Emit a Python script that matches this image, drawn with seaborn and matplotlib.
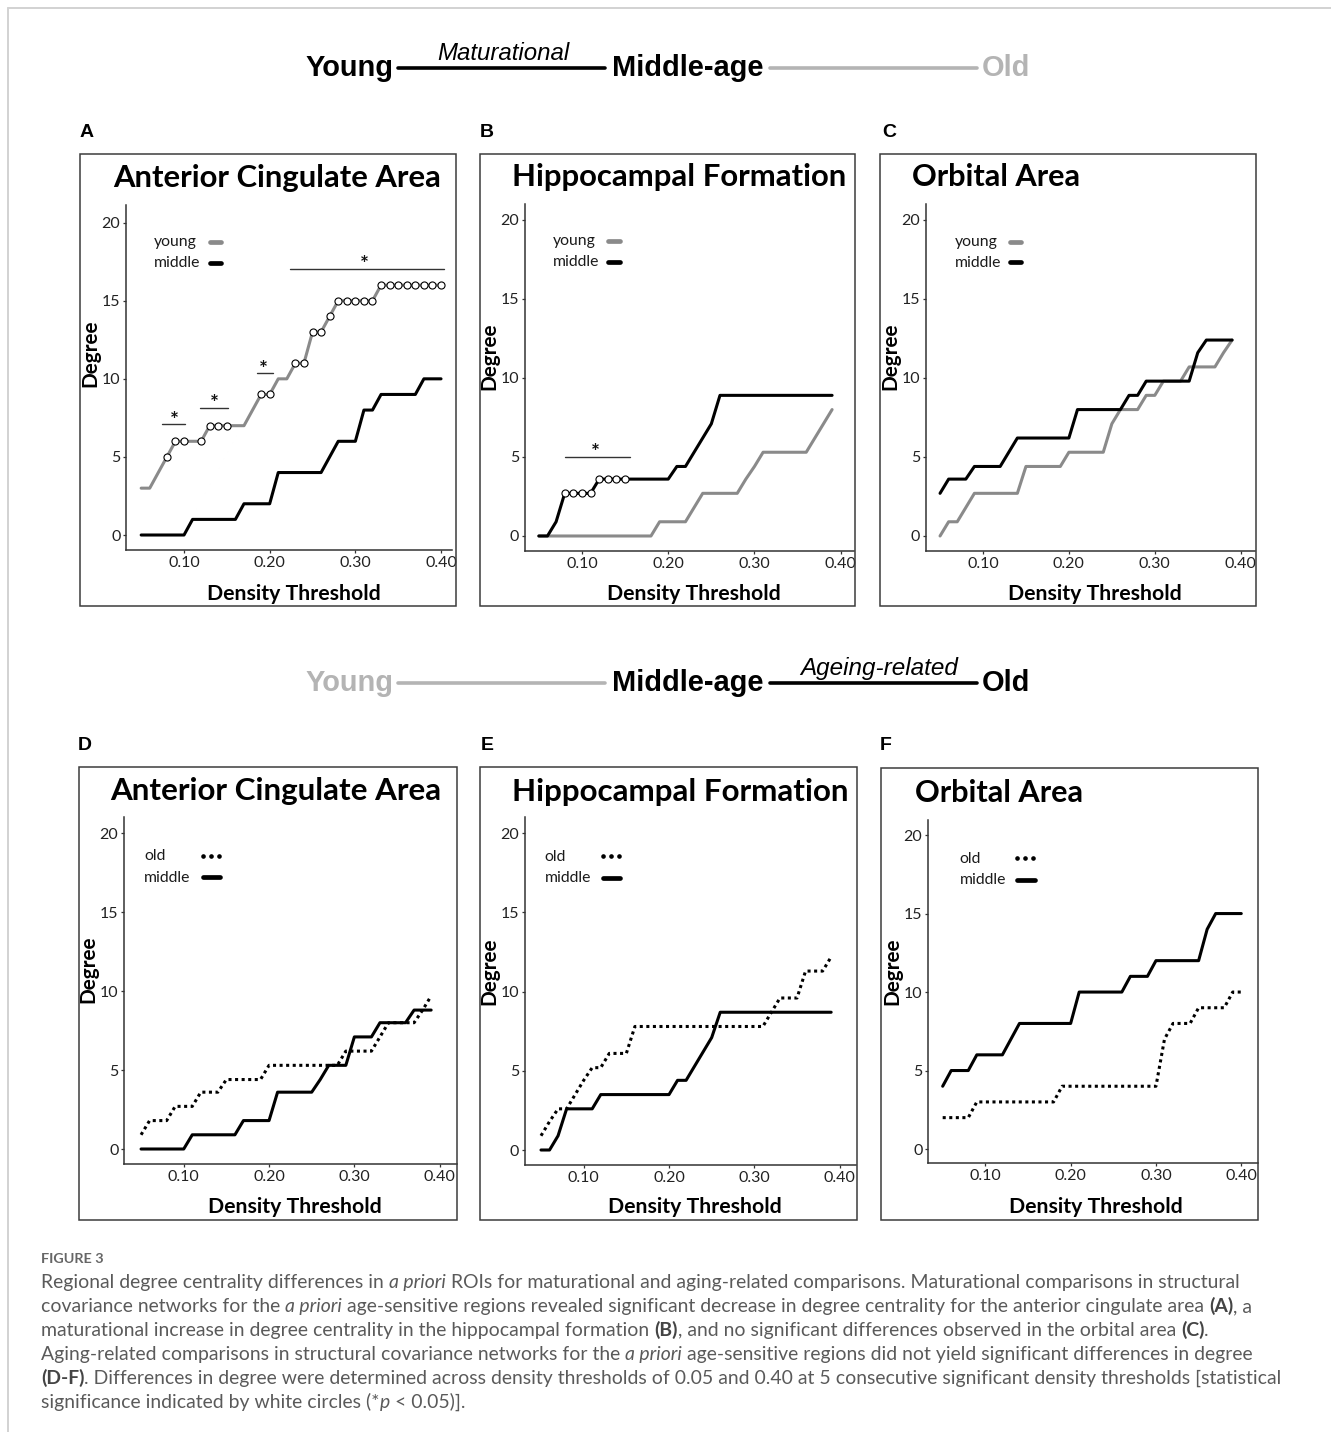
import matplotlib
matplotlib.use("Agg")
import matplotlib.pyplot as plt
import matplotlib.transforms as mtransforms
from matplotlib.lines import Line2D
from matplotlib.patches import Rectangle
import pandas as pd
import seaborn as sns

# ---------------------------------------------------------------- data
thresholds_36 = [0.05, 0.06, 0.07, 0.08, 0.09, 0.10, 0.11, 0.12, 0.13, 0.14,
                 0.15, 0.16, 0.17, 0.18, 0.19, 0.20, 0.21, 0.22, 0.23, 0.24,
                 0.25, 0.26, 0.27, 0.28, 0.29, 0.30, 0.31, 0.32, 0.33, 0.34,
                 0.35, 0.36, 0.37, 0.38, 0.39, 0.40]
thresholds_35 = thresholds_36[:35]

# A - anterior cingulate area, young vs middle-age
acc_young = [3, 3, 4, 5, 6, 6, 6, 6, 7, 7, 7, 7, 7, 8, 9, 9, 10, 10, 11, 11,
             13, 13, 14, 15, 15, 15, 15, 15, 16, 16, 16, 16, 16, 16, 16, 16]
acc_young_sig = [0, 0, 0, 1, 1, 1, 0, 1, 1, 1, 1, 0, 0, 0, 1, 1, 0, 0, 1, 1,
                 1, 1, 1, 1, 1, 1, 1, 1, 1, 1, 1, 1, 1, 1, 1, 1]
acc_middle_a = [0, 0, 0, 0, 0, 0, 1, 1, 1, 1, 1, 1, 2, 2, 2, 2, 4, 4, 4, 4,
                4, 4, 5, 6, 6, 6, 8, 8, 9, 9, 9, 9, 9, 10, 10, 10]

# B - hippocampal formation, young vs middle-age
hip_young_b = [0, 0, 0, 0, 0, 0, 0, 0, 0, 0, 0, 0, 0, 0, 0.9, 0.9, 0.9, 0.9,
               1.8, 2.7, 2.7, 2.7, 2.7, 2.7, 3.6, 4.4, 5.3, 5.3, 5.3, 5.3,
               5.3, 5.3, 6.2, 7.1, 8.0]
hip_middle_b = [0, 0, 0.9, 2.7, 2.7, 2.7, 2.7, 3.6, 3.6, 3.6, 3.6, 3.6, 3.6,
                3.6, 3.6, 3.6, 4.4, 4.4, 5.3, 6.2, 7.1, 8.9, 8.9, 8.9, 8.9,
                8.9, 8.9, 8.9, 8.9, 8.9, 8.9, 8.9, 8.9, 8.9, 8.9]
hip_middle_b_sig = [0, 0, 0, 1, 1, 1, 1, 1, 1, 1, 1, 0, 0, 0, 0, 0, 0, 0, 0,
                    0, 0, 0, 0, 0, 0, 0, 0, 0, 0, 0, 0, 0, 0, 0, 0]

# C - orbital area, young vs middle-age
orb_young_c = [0, 0.9, 0.9, 1.8, 2.7, 2.7, 2.7, 2.7, 2.7, 2.7, 4.4, 4.4, 4.4,
               4.4, 4.4, 5.3, 5.3, 5.3, 5.3, 5.3, 7.1, 8.0, 8.0, 8.0, 8.9, 8.9,
               9.8, 9.8, 9.8, 10.7, 10.7, 10.7, 10.7, 11.6, 12.4]
orb_middle_c = [2.7, 3.6, 3.6, 3.6, 4.4, 4.4, 4.4, 4.4, 5.3, 6.2, 6.2, 6.2,
                6.2, 6.2, 6.2, 6.2, 8.0, 8.0, 8.0, 8.0, 8.0, 8.0, 8.9, 8.9,
                9.8, 9.8, 9.8, 9.8, 9.8, 9.8, 11.6, 12.4, 12.4, 12.4, 12.4]

# D - anterior cingulate area, old vs middle-age
acc_old_d = [0.9, 1.8, 1.8, 1.8, 2.7, 2.7, 2.7, 3.6, 3.6, 3.6, 4.4, 4.4, 4.4,
             4.4, 4.4, 5.3, 5.3, 5.3, 5.3, 5.3, 5.3, 5.3, 5.3, 5.3, 6.2, 6.2,
             6.2, 6.2, 7.1, 8.0, 8.0, 8.0, 8.0, 8.8, 9.7]
acc_middle_d = [0, 0, 0, 0, 0, 0, 0.9, 0.9, 0.9, 0.9, 0.9, 0.9, 1.8, 1.8, 1.8,
                1.8, 3.6, 3.6, 3.6, 3.6, 3.6, 4.4, 5.3, 5.3, 5.3, 7.1, 7.1,
                7.1, 8.0, 8.0, 8.0, 8.0, 8.8, 8.8, 8.8]

# E - hippocampal formation, old vs middle-age
hip_old_e = [0.9, 1.8, 2.6, 2.6, 3.5, 4.4, 5.2, 5.2, 6.1, 6.1, 6.1, 7.8, 7.8,
             7.8, 7.8, 7.8, 7.8, 7.8, 7.8, 7.8, 7.8, 7.8, 7.8, 7.8, 7.8, 7.8,
             7.8, 8.7, 9.6, 9.6, 9.6, 11.3, 11.3, 11.3, 12.2]
hip_middle_e = [0, 0, 0.9, 2.6, 2.6, 2.6, 2.6, 3.5, 3.5, 3.5, 3.5, 3.5, 3.5,
                3.5, 3.5, 3.5, 4.4, 4.4, 5.3, 6.2, 7.1, 8.7, 8.7, 8.7, 8.7,
                8.7, 8.7, 8.7, 8.7, 8.7, 8.7, 8.7, 8.7, 8.7, 8.7]

# F - orbital area, old vs middle-age
orb_old_f = [2, 2, 2, 2, 3, 3, 3, 3, 3, 3, 3, 3, 3, 3, 4, 4, 4, 4, 4, 4,
             4, 4, 4, 4, 4, 4, 7, 8, 8, 8, 9, 9, 9, 9, 10, 10]
orb_middle_f = [4, 5, 5, 5, 6, 6, 6, 6, 7, 8, 8, 8, 8, 8, 8, 8, 10, 10, 10, 10,
                10, 10, 11, 11, 11, 12, 12, 12, 12, 12, 12, 14, 15, 15, 15, 15]

x_ticks = [0.10, 0.20, 0.30, 0.40]
x_tick_labels = ["0.10", "0.20", "0.30", "0.40"]
y_ticks = [0, 5, 10, 15, 20]

# ---------------------------------------------------------------- style
W, H, DPI = 1331, 1432, 100
GREY = "#8a8a8a"
LIGHT = "#b4b4b4"
INK = "#000000"
LW = 2.2
DOTS = (0, (1.0, 1.15))

sns.set_theme(style="ticks")
plt.rcParams["font.family"] = ["Lato", "DejaVu Sans"]
plt.rcParams["axes.edgecolor"] = "#333333"

fig = plt.figure(figsize=(W / DPI, H / DPI), dpi=DPI)
fig.patch.set_facecolor("white")
renderer = fig.canvas.get_renderer()


def fx(x):
    return x / W


def fy(y):
    return 1 - y / H


def text_px(x, y, s, **kw):
    kw.setdefault("va", "baseline")
    return fig.text(fx(x), fy(y), s, **kw)


def fit_width(t, width):
    w = t.get_window_extent(renderer=renderer).width
    t.set_fontsize(t.get_fontsize() * width / w)
    return t


def fit_height(t, height):
    h = t.get_window_extent(renderer=renderer).height
    t.set_fontsize(t.get_fontsize() * height / h)
    return t


def seg_px(x0, x1, y0, y1=None, **kw):
    y1 = y0 if y1 is None else y1
    fig.add_artist(Line2D([fx(x0), fx(x1)], [fy(y0), fy(y1)],
                          transform=fig.transFigure, **kw))


# ---------------------------------------------------------------- page border
seg_px(8, W, 8, color="#d2d2d2", lw=1.4)
seg_px(8, 8, 8, H, color="#d2d2d2", lw=1.4)

# ---------------------------------------------------------------- group headers
HEAD = "Liberation Sans"


def header(base, line_y, dark_left, tag, tag_cx, tag_base, tag_w):
    c_left = INK if dark_left else LIGHT
    c_right = LIGHT if dark_left else INK
    mid = text_px(687.5, base, "Middle-age", ha="center", family=HEAD,
                  fontweight="bold", fontsize=20, color=INK)
    fit_width(mid, 151)
    size = mid.get_fontsize()
    text_px(393, base, "Young", ha="right", family=HEAD, fontweight="bold",
            fontsize=size, color=c_left)
    text_px(982, base, "Old", ha="left", family=HEAD, fontweight="bold",
            fontsize=size, color=c_right)
    seg_px(398, 605, line_y, color=c_left, lw=2.6)
    seg_px(770, 977, line_y, color=c_right, lw=2.6)
    t = text_px(tag_cx, tag_base, tag, ha="center", family=HEAD,
                fontstyle="italic", fontsize=16, color=INK)
    fit_width(t, tag_w)


header(76, 68, True, "Maturational", 503, 60, 132)
header(691, 683, False, "Ageing-related", 879, 675, 158)

# ---------------------------------------------------------------- panels
PANELS = [
    dict(letter="A", letter_xy=(87, 137), frame=(80, 154, 456, 606),
         axes=(126, 205, 452, 550), xlim=(0.0323, 0.4128), ylim=(-0.96, 21.13),
         title="Anterior Cingulate Area", title_c=277.5, title_base=187, title_w=328,
         ylab=(90.8, 353), xlab=(294.2, 600),
         series=[("young", thresholds_36, acc_young, GREY, "-"),
                 ("middle", thresholds_36, acc_middle_a, INK, "-")],
         sig=(thresholds_36, acc_young, acc_young_sig),
         stars=[(0.0747, 0.1016, 7.13, 0.0883, 7.66),
                (0.1187, 0.1517, 8.15, 0.1354, 8.72),
                (0.1848, 0.2035, 10.38, 0.1926, 10.96),
                (0.2237, 0.4035, 17.06, 0.3101, 17.66)],
         legend=dict(x=154, base=(246, 267), seg=(207.7, 223.3))),
    dict(letter="B", letter_xy=(487, 137), frame=(480, 154, 855, 606),
         axes=(524.7, 204, 854, 551), xlim=(0.0336, 0.4154), ylim=(-0.95, 21.01),
         title="Hippocampal Formation", title_c=678.8, title_base=186, title_w=335,
         ylab=(489.2, 355.8), xlab=(693.8, 600),
         series=[("young", thresholds_35, hip_young_b, GREY, "-"),
                 ("middle", thresholds_35, hip_middle_b, INK, "-")],
         sig=(thresholds_35, hip_middle_b, hip_middle_b_sig),
         stars=[(0.0807, 0.1553, 5.01, 0.1155, 5.64)],
         legend=dict(x=553, base=(245, 266), seg=(605.7, 622))),
    dict(letter="C", letter_xy=(889, 137), frame=(880, 154, 1256, 606),
         axes=(925.7, 204, 1254.7, 551), xlim=(0.0333, 0.4163), ylim=(-0.95, 21.01),
         title="Orbital Area", title_c=995.8, title_base=186, title_w=169,
         ylab=(890.5, 355.8), xlab=(1095.2, 600),
         series=[("young", thresholds_35, orb_young_c, GREY, "-"),
                 ("middle", thresholds_35, orb_middle_c, INK, "-")],
         sig=None, stars=[],
         legend=dict(x=954.7, base=(246, 266.7), seg=(1008, 1023.7))),
    dict(letter="D", letter_xy=(85, 750), frame=(79, 767, 457, 1220),
         axes=(124, 817, 457, 1164), xlim=(0.0300, 0.4203), ylim=(-0.95, 21.03),
         title="Anterior Cingulate Area", title_c=275.5, title_base=800, title_w=331.7,
         ylab=(88.8, 969), xlab=(295.2, 1212.7),
         series=[("old", thresholds_35, acc_old_d, INK, DOTS),
                 ("middle", thresholds_35, acc_middle_d, INK, "-")],
         sig=None, stars=[],
         legend=dict(x=144, base=(860, 881.7), seg=(200.3, 222))),
    dict(letter="E", letter_xy=(487, 750), frame=(480, 767, 857, 1220),
         axes=(524.7, 817, 856, 1165), xlim=(0.0309, 0.4191), ylim=(-0.947, 21.03),
         title="Hippocampal Formation", title_c=680, title_base=801, title_w=337.3,
         ylab=(489.2, 970.8), xlab=(694.7, 1212.7),
         series=[("old", thresholds_35, hip_old_e, INK, DOTS),
                 ("middle", thresholds_35, hip_middle_e, INK, "-")],
         sig=None, stars=[],
         legend=dict(x=544.7, base=(860.7, 882.3), seg=(600.3, 622))),
    dict(letter="F", letter_xy=(886, 750), frame=(881, 768, 1258, 1220),
         axes=(928, 820, 1258, 1163), xlim=(0.0328, 0.4196), ylim=(-0.89, 20.96),
         title="Orbital Area", title_c=999.2, title_base=801.7, title_w=169,
         ylab=(892.2, 970.8), xlab=(1096, 1212.7),
         series=[("old", thresholds_36, orb_old_f, INK, DOTS),
                 ("middle", thresholds_36, orb_middle_f, INK, "-")],
         sig=None, stars=[],
         legend=dict(x=959.7, base=(862.7, 884), seg=(1014.7, 1037.3))),
]

STAR_SIZE = 15

for p in PANELS:
    x0, y0, x1, y1 = p["frame"]
    fig.add_artist(Rectangle((fx(x0), fy(y1)), (x1 - x0) / W, (y1 - y0) / H,
                             transform=fig.transFigure, fill=False,
                             edgecolor="#3c3c3c", linewidth=1.1))
    lx, ly = p["letter_xy"]
    text_px(lx, ly, p["letter"], ha="center", family=HEAD, fontweight="bold",
            fontsize=14, color=INK)

    l, t, r, b = p["axes"]
    ax = fig.add_axes([fx(l), fy(b), (r - l) / W, (b - t) / H])
    ax.patch.set_alpha(0)

    for label, xs, ys, color, ls in p["series"]:
        df = pd.DataFrame({"threshold": xs, "degree": ys})
        sns.lineplot(data=df, x="threshold", y="degree", ax=ax, color=color,
                     linewidth=LW, linestyle=ls, estimator=None, sort=False,
                     legend=False, zorder=3)

    if p["sig"] is not None:
        xs, ys, flags = p["sig"]
        sdf = pd.DataFrame({"threshold": xs, "degree": ys, "sig": flags})
        sdf = sdf[sdf["sig"] == 1]
        sns.scatterplot(data=sdf, x="threshold", y="degree", ax=ax, s=26,
                        color="white", edgecolor="black", linewidth=0.8,
                        zorder=5, legend=False)

    star_tr = mtransforms.offset_copy(ax.transData, fig=fig,
                                      y=-0.56 * STAR_SIZE, units="points")
    for bx0, bx1, by, sx, sy in p["stars"]:
        ax.plot([bx0, bx1], [by, by], color="#333333", lw=1.0, zorder=4)
        ax.text(sx, sy, "*", transform=star_tr, ha="center", va="baseline",
                fontsize=STAR_SIZE, fontweight="bold", color="#111111")

    ax.set_xlim(*p["xlim"])
    ax.set_ylim(*p["ylim"])
    ax.set_xticks(x_ticks)
    ax.set_xticklabels(x_tick_labels)
    ax.set_yticks(y_ticks)
    ax.set_xlabel("")
    ax.set_ylabel("")
    sns.despine(ax=ax)
    for side in ("left", "bottom"):
        ax.spines[side].set_linewidth(1.1)
        ax.spines[side].set_color("#333333")
    ax.tick_params(axis="both", length=2.5, width=0.9, color="#333333",
                   labelsize=11.5, labelcolor="#222222")
    ax.tick_params(axis="y", pad=1.5)
    ax.tick_params(axis="x", pad=2.0)

    tt = text_px(p["title_c"], p["title_base"], p["title"], ha="center",
                 fontweight="bold", fontsize=21, color=INK)
    fit_width(tt, p["title_w"])

    yl = text_px(p["ylab"][0], p["ylab"][1], "Degree", ha="center", va="center",
                 rotation=90, fontweight="bold", fontsize=15, color=INK)
    fit_height(yl, 68)
    xl = text_px(p["xlab"][0], p["xlab"][1], "Density Threshold", ha="center",
                 fontweight="bold", fontsize=16, color=INK)
    fit_width(xl, 175)

    lg = p["legend"]
    sx0, sx1 = lg["seg"]
    for (label, xs, ys, color, ls), base in zip(p["series"], lg["base"]):
        text_px(lg["x"], base, label, ha="left", fontsize=11.3, color="#1a1a1a")
        yy = base - 4.5
        if ls == "-":
            seg_px(sx0 + 2.4, sx1 - 2.4, yy, color=color, lw=3.4,
                   solid_capstyle="round")
        else:
            seg_px(sx0 + 2.4, sx1 - 1.0, yy, color=color, lw=3.4,
                   linestyle=(0, (0.01, 1.68)), dash_capstyle="round")

# ---------------------------------------------------------------- caption
CAP_COLOR = "#5a5a5a"
STYLES = {"r": dict(), "i": dict(fontstyle="italic"),
          "b": dict(fontweight="bold", color="#444444")}

CAPTION = [
    [("Regional degree centrality differences in ", "r"), ("a priori", "i"),
     (" ROIs for maturational and aging-related comparisons. Maturational "
      "comparisons in structural", "r")],
    [("covariance networks for the ", "r"), ("a priori", "i"),
     (" age-sensitive regions revealed significant decrease in degree centrality "
      "for the anterior cingulate area ", "r"), ("(A)", "b"), (", a", "r")],
    [("maturational increase in degree centrality in the hippocampal formation ", "r"),
     ("(B)", "b"), (", and no significant differences observed in the orbital area ", "r"),
     ("(C)", "b"), (".", "r")],
    [("Aging-related comparisons in structural covariance networks for the ", "r"),
     ("a priori", "i"),
     (" age-sensitive regions did not yield significant differences in degree", "r")],
    [("(D-F)", "b"),
     (". Differences in degree were determined across density thresholds of 0.05 "
      "and 0.40 at 5 consecutive significant density thresholds [statistical", "r")],
    [("significance indicated by white circles (*", "r"), ("p", "i"),
     (" < 0.05)].", "r")],
]


def advance(s, size, style):
    kw = {k: v for k, v in style.items() if k != "color"}
    a = fig.text(0, 0, "|" + s + "|", fontsize=size, **kw)
    b = fig.text(0, 0, "||", fontsize=size, **kw)
    w = (a.get_window_extent(renderer=renderer).width
         - b.get_window_extent(renderer=renderer).width)
    a.remove()
    b.remove()
    return w


def line_width(parts, size):
    return sum(advance(s, size, STYLES[k]) for s, k in parts)


cap_size = 12 * 1234 / line_width(CAPTION[4], 12)

fig_lbl = text_px(41, 1263, "FIGURE 3", ha="left", fontsize=11,
                  fontweight="bold", color="#666666")
fit_width(fig_lbl, 63)

for i, parts in enumerate(CAPTION):
    cur = 41
    base = 1288 + 24 * i
    for s, k in parts:
        st = dict(STYLES[k])
        color = st.pop("color", CAP_COLOR)
        text_px(cur, base, s, ha="left", fontsize=cap_size, color=color, **st)
        cur += advance(s, cap_size, STYLES[k])

fig.savefig("out.png", dpi=DPI, facecolor="white")
